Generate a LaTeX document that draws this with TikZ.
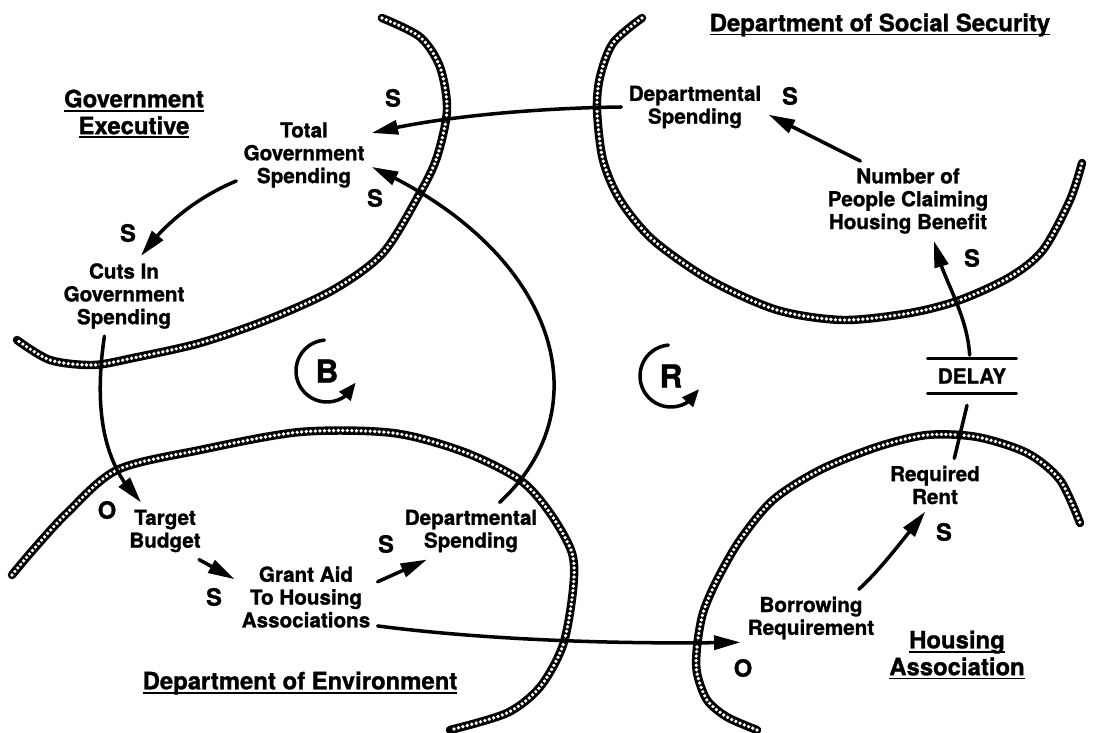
\documentclass[tikz,border=0pt]{standalone}
\usepackage{fontspec}
\setmainfont[BoldFeatures={FakeBold=1.2}]{TeX Gyre Heros}
\usetikzlibrary{arrows.meta,bending}
\newcommand{\deptline}[1]{\sbox0{#1}\rlap{\rule[-2.4pt]{\wd0}{1.1pt}}\usebox0}

\begin{document}
\begin{tikzpicture}[x=0.02cm,y=-0.02cm,line cap=round,line join=round,
  var/.style={font=\bfseries\fontsize{11.75}{13}\selectfont,align=center,inner sep=4pt},
  deptname/.style={font=\bfseries\fontsize{13.6}{15.3}\selectfont,align=center,inner sep=0pt},
  sign/.style={font=\bfseries\fontsize{13.5}{15}\selectfont,inner sep=0pt},
  loopmark/.style={font=\bfseries\fontsize{18}{20}\selectfont,inner sep=0pt},
  link/.style={line width=2pt,-{Triangle[length=15pt,width=8pt]}},
  loopline/.style={line width=2pt,-{Triangle[length=10pt,width=8pt,flex]}},
  zone/.style={line width=4.8pt,postaction={draw=white,line width=2.1pt,dash pattern=on 0pt off 2.6pt}}]
  \useasboundingbox (0,0) rectangle (1096,733);
  % department boundaries
  \draw[zone] plot[smooth] coordinates {(382,18) (420,37) (440,67) (447,110) (437,157) (420,193) (383,253) (333,290) (267,320) (200,343) (133,358) (93,365) (50,360) (17,340)};
  \draw[zone] plot[smooth] coordinates {(642,18) (613,43) (600,77) (597,110) (603,160) (620,200) (653,240) (710,280) (777,310) (843,320) (910,313) (960,300) (1010,277) (1043,250) (1070,200) (1082,163)};
  \draw[zone] plot[smooth] coordinates {(12,575) (33,550) (67,513) (117,470) (200,450) (300,432) (393,433) (464,452) (520,480) (550,513) (572,553) (573,590) (563,645) (540,687) (507,713) (450,730)};
  \draw[zone] plot[smooth] coordinates {(757,730) (727,717) (707,700) (697,673) (697,647) (703,613) (717,580) (740,540) (773,500) (820,470) (877,447) (927,435) (977,437) (1027,453) (1060,480) (1080,523)};
  % department names
  \node[deptname] (govT) at (134,114) {\deptline{Government}\\\deptline{Executive}};
  \node[deptname] (dssT) at (880,25) {\deptline{Department of Social Security}};
  \node[deptname] (envT) at (300,683) {\deptline{Department of Environment}};
  \node[deptname] (haT) at (957,655) {\deptline{Housing}\\\deptline{Association}};
  % variables
  \node[var] (tgs) at (304,155) {Total\\Government\\Spending};
  \node[var] (cuts) at (124,296) {Cuts In\\Government\\Spending};
  \node[var] (target) at (165,531) {Target\\Budget};
  \node[var] (grant) at (306,597) {Grant Aid\\To Housing\\Associations};
  \node[var] (dse) at (471,531) {Departmental\\Spending};
  \node[var] (dss) at (695,107) {Departmental\\Spending};
  \node[var] (num) at (908,201) {Number of\\People Claiming\\Housing Benefit};
  \node[var] (borrow) at (811,618) {Borrowing\\Requirement};
  \node[var] (rent) at (935,485) {Required\\Rent};
  \node[var,inner xsep=5.7pt,inner ysep=5.4pt] (delay) at (972,376) {DELAY};
  \draw[line width=1.7pt] (delay.north west) -- (delay.north east);
  \draw[line width=1.7pt] (delay.south west) -- (delay.south east);
  % links
  \draw[link] (dss.west) .. controls (540,108) and (440,116) .. (tgs.18);
  \draw[link] (dse.45) .. controls (605,405) and (555,250) .. (tgs.-10);
  \draw[link] (tgs.201) .. controls (200,196) and (165,222) .. (cuts.67);
  \draw[link] (cuts.-116) .. controls (92,420) and (108,470) .. (target.130);
  \draw[link] (target.-40) -- (grant.166);
  \draw[link] (grant.12) -- (dse.213);
  \draw[link] (grant.-22) .. controls (470,638) and (600,645) .. (borrow.199);
  \draw[link] (borrow.31) .. controls (882,568) and (905,537) .. (rent.-110);
  \draw[line width=2pt,shorten >=7pt] (rent.54) -- (delay.-97);
  \draw[link,shorten <=2pt] (delay.97) .. controls (967,310) and (940,275) .. (num.-57);
  \draw[link] (num.140) -- (dss.-6);
  % link signs
  \node[sign] (sTgsA) at (393,98) {S};
  \node[sign] (sTgsB) at (375,198) {S};
  \node[sign] (sCuts) at (128,233) {S};
  \node[sign] (oTarget) at (107,510) {O};
  \node[sign] (sGrant) at (214,597) {S};
  \node[sign] (sDse) at (386,544) {S};
  \node[sign] (sDss) at (790,96) {S};
  \node[sign] (sNum) at (972,258) {S};
  \node[sign] (sRent) at (944,532) {S};
  \node[sign] (oBorrow) at (743,668) {O};
  % loop markers
  \node[loopmark] (B) at (327,371) {B};
  \draw[loopline] (B.center) ++(95:0.62cm) arc[start angle=95,end angle=338,radius=0.62cm];
  \node[loopmark] (R) at (671,376) {R};
  \draw[loopline] (R.center) ++(95:0.62cm) arc[start angle=95,end angle=335,radius=0.62cm];
\end{tikzpicture}
\end{document}
